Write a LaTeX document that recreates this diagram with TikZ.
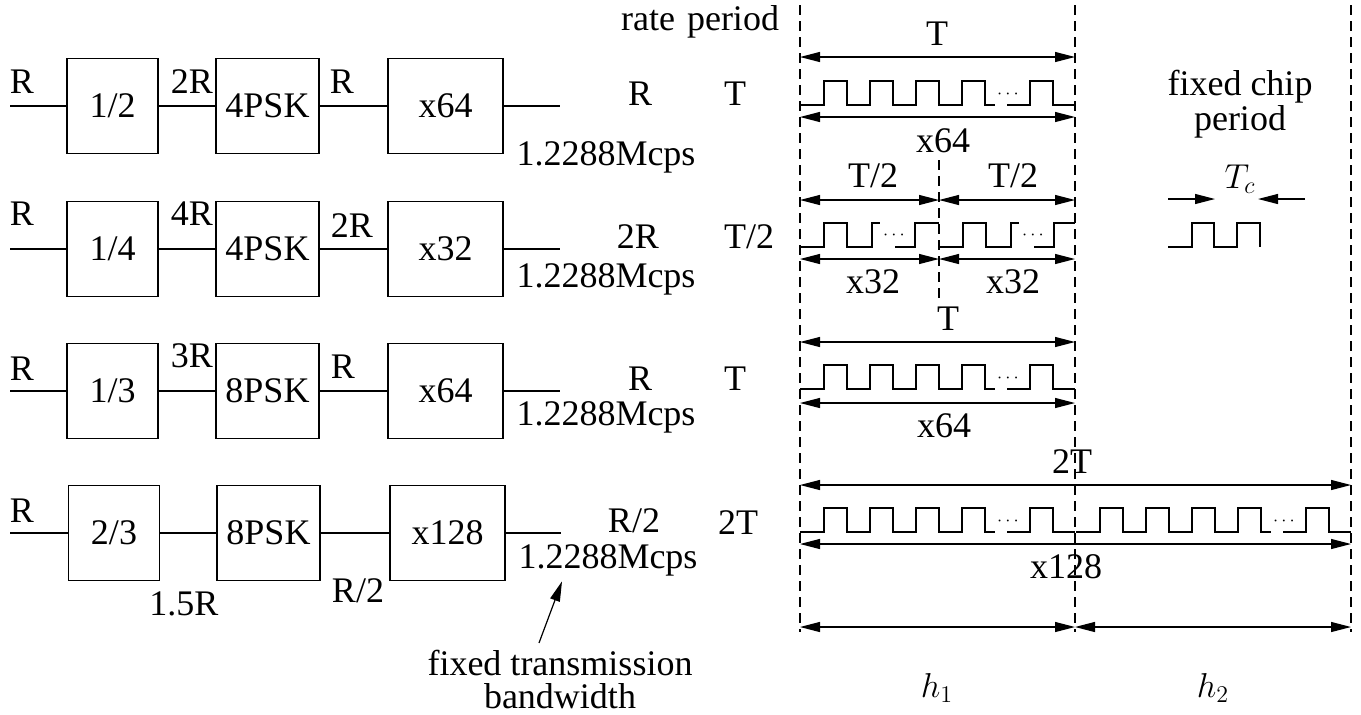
\documentclass[tikz,border=0pt]{standalone}
\usepackage{fontspec}
\setmainfont{Liberation Serif}
\usetikzlibrary{arrows.meta}

% one symbol period of chips: #1 = name, #2 = start x, #3 = low level
\newcommand{\fullwave}[3]{%
  \draw[wave] (#2,#3) -- ++(24,0)
    \foreach \k in {1,2,3} {-- ++(0,-24) -- ++(23,0) -- ++(0,24) -- ++(23,0)}
    -- ++(0,-24) -- ++(23,0) -- ++(0,24) -- ++(10,0);
  \node[dots] (#1) at (#2+208,#3-11) {$\cdots$};
  \draw[wave] (#2+207,#3) -- (#2+230,#3) -- ++(0,-24) -- ++(23,0) -- ++(0,24) -- (#2+275,#3);
}
% half a symbol period: #4 = end x
\newcommand{\halfwave}[4]{%
  \draw[wave] (#2,#3) -- ++(24,0) -- ++(0,-24) -- ++(23,0) -- ++(0,24)
    -- ++(25,0) -- ++(0,-24) -- ++(8,0);
  \node[dots] (#1) at (#2+94,#3-12) {$\cdots$};
  \draw[wave] (#2+95,#3) -- (#2+115,#3) -- ++(0,-24) -- (#4,#3-24);
}

\begin{document}
\begin{tikzpicture}[x=0.5pt,y=-0.5pt,
  font=\fontsize{18}{20}\selectfont,
  line width=0.7pt,
  blk/.style={draw,minimum width=#1,minimum height=47.5pt,inner sep=0pt},
  lbl/.style={inner sep=0pt,anchor=base},
  dots/.style={inner sep=0pt,font=\small},
  guide/.style={dash pattern=on 5pt off 3pt,line width=0.6pt},
  wave/.style={line width=0.6pt},
  dim/.style={{Triangle[length=10pt,width=5pt]}-{Triangle[length=10pt,width=5pt]},line width=0.6pt},
  tip/.style={-{Triangle[length=10pt,width=5pt]},line width=0.6pt},
]
  \useasboundingbox (0,0) rectangle (1361,714);

  % ---- transmitter chains ----
  \coordinate (in1) at (10,106);
  \node[blk=45.5pt] (cod1) at (112.5,106) {1/2};
  \node[blk=51.5pt] (mod1) at (267.5,106) {4PSK};
  \node[blk=57.5pt] (spr1) at (445.5,106) {x64};
  \coordinate (out1) at (560,106);
  \draw (in1) -- (cod1) -- (mod1) -- (spr1) -- (out1);
  \node[lbl] (ra1) at (22,93) {R};
  \node[lbl] (rb1) at (192,93) {2R};
  \node[lbl] (rc1) at (342,93) {R};
  \node[lbl] (mc1) at (606,165) {1.2288Mcps};

  \coordinate (in2) at (10,249);
  \node[blk=45.5pt] (cod2) at (112.5,249) {1/4};
  \node[blk=51.5pt] (mod2) at (267.5,249) {4PSK};
  \node[blk=57.5pt] (spr2) at (445.5,249) {x32};
  \coordinate (out2) at (560,249);
  \draw (in2) -- (cod2) -- (mod2) -- (spr2) -- (out2);
  \node[lbl] (ra2) at (22,225) {R};
  \node[lbl] (rb2) at (192,225) {4R};
  \node[lbl] (rc2) at (352,237) {2R};
  \node[lbl] (mc2) at (606,287) {1.2288Mcps};

  \coordinate (in3) at (10,391);
  \node[blk=45.5pt] (cod3) at (112.5,391) {1/3};
  \node[blk=51.5pt] (mod3) at (267.5,391) {8PSK};
  \node[blk=57.5pt] (spr3) at (445.5,391) {x64};
  \coordinate (out3) at (560,391);
  \draw (in3) -- (cod3) -- (mod3) -- (spr3) -- (out3);
  \node[lbl] (ra3) at (22,380) {R};
  \node[lbl] (rb3) at (192,367) {3R};
  \node[lbl] (rc3) at (343,378) {R};
  \node[lbl] (mc3) at (606,425) {1.2288Mcps};

  \coordinate (in4) at (10,533);
  \node[blk=45.5pt] (cod4) at (114,533) {2/3};
  \node[blk=51.5pt] (mod4) at (268.5,533) {8PSK};
  \node[blk=57.5pt] (spr4) at (447.5,533) {x128};
  \coordinate (out4) at (561,533);
  \draw (in4) -- (cod4) -- (mod4) -- (spr4) -- (out4);
  \node[lbl] (ra4) at (22,522) {R};
  \node[lbl] (rb4) at (184,615) {1.5R};
  \node[lbl] (rc4) at (358,602) {R/2};
  \node[lbl] (mc4) at (608,568) {1.2288Mcps};

  \node[lbl] (ftb) at (560,675) {fixed transmission};
  \node[lbl] (bw) at (560,708) {bandwidth};
  \draw[tip] ([xshift=-10.5pt,yshift=3pt]ftb.north) -- ([xshift=-23pt,yshift=-2.5pt]mc4.south);

  % ---- rate / period table ----
  \node[lbl] (rate) at (648,30) {rate};
  \node[lbl] (per) at (733,30) {period};
  \node[lbl] (rt1) at (640,105) {R};
  \node[lbl] (pd1) at (735,105) {T};
  \node[lbl] (rt2) at (638,248) {2R};
  \node[lbl] (pd2) at (749,248) {T/2};
  \node[lbl] (rt3) at (640,390) {R};
  \node[lbl] (pd3) at (735,390) {T};
  \node[lbl] (rt4) at (634,532) {R/2};
  \node[lbl] (pd4) at (738,534) {2T};

  % ---- chip waveforms ----
  \draw[guide] (800,5) -- (800,632);
  \draw[guide] (1075,5) -- (1075,632);
  \draw[guide] (1351,5) -- (1351,632);
  \draw[guide] (939,160) -- (939,300);

  \node[lbl] (tt1) at (937,45) {T};
  \draw[dim] (800,57) -- (1075,57);
  \fullwave{d1}{800}{105}
  \draw[dim] (800,117) -- (1075,117);
  \node[lbl] (n1) at (943,152) {x64};

  \node[lbl] (tt2a) at (873,187) {T/2};
  \node[lbl] (tt2b) at (1013,187) {T/2};
  \draw[dim] (800,200) -- (939,200);
  \draw[dim] (939,200) -- (1075,200);
  \halfwave{d2a}{800}{247}{939}
  \halfwave{d2b}{939}{247}{1075}
  \draw[dim] (800,259) -- (939,259);
  \draw[dim] (939,259) -- (1075,259);
  \node[lbl] (n2a) at (873,293) {x32};
  \node[lbl] (n2b) at (1013,293) {x32};

  \node[lbl] (tt3) at (948,330) {T};
  \draw[dim] (800,342) -- (1075,342);
  \fullwave{d3}{800}{389}
  \draw[dim] (800,403) -- (1075,403);
  \node[lbl] (n3) at (944,437) {x64};

  \node[lbl] (tt4) at (1072,473) {2T};
  \draw[dim] (800,485) -- (1351,485);
  \fullwave{d4a}{800}{532}
  \fullwave{d4b}{1076}{532}
  \draw[dim] (800,544) -- (1351,544);
  \node[lbl] (n4) at (1066,578) {x128};

  \draw[dim] (800,627) -- (1075,627);
  \draw[dim] (1075,627) -- (1351,627);
  \node[lbl] (h1) at (937,697) {$h_1$};
  \node[lbl] (h2) at (1213,697) {$h_2$};

  % ---- fixed chip period ----
  \node[lbl] (fc) at (1240,95) {fixed chip};
  \node[lbl] (fp) at (1240,130) {period};
  \node[lbl] (tc) at (1240,188) {$T_c$};
  \coordinate (tcl) at (1168,199);
  \coordinate (tcr) at (1305,199);
  \draw[tip] (tcl) -- (1215,199);
  \draw[tip] (tcr) -- (1258,199);
  \draw[wave] (1168,247) -- (1192,247) -- (1192,223) -- (1214,223) -- (1214,247)
    -- (1237,247) -- (1237,223) -- (1260,223) -- (1260,247);
\end{tikzpicture}
\end{document}
